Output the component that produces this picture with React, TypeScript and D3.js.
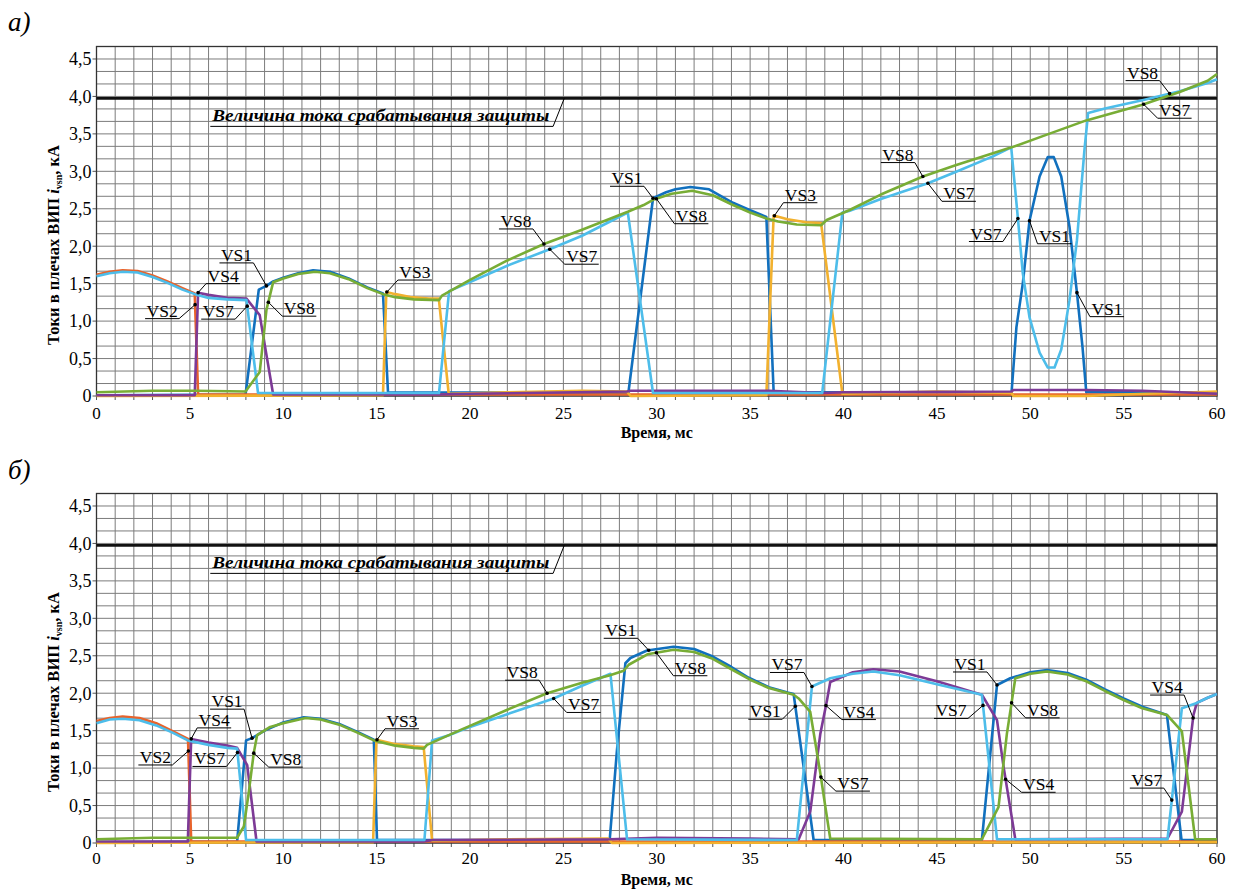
import React from 'react';
import * as d3 from 'd3';

type Pt = [number, number];

// ---------- axes / text ----------
const TIME_TICKS = [0, 5, 10, 15, 20, 25, 30, 35, 40, 45, 50, 55, 60];
const CURRENT_TICKS = [0, 0.5, 1, 1.5, 2, 2.5, 3, 3.5, 4, 4.5];
const CURRENT_TICK_LABELS = ['0', '0,5', '1,0', '1,5', '2,0', '2,5', '3,0', '3,5', '4,0', '4,5'];
const TRIP_LEVEL = 3.975;
const TRIP_TEXT = 'Величина тока срабатывания защиты';
const X_TITLE = 'Время, мс';
const SERIES_NAMES = ['VS1', 'VS2', 'VS3', 'VS4', 'VS7', 'VS8'];
const COLORS: Record<string, string> = {
  VS1: '#1170BE',
  VS2: '#E8632B',
  VS3: '#F2B12E',
  VS4: '#7D3A96',
  VS7: '#4DBDEA',
  VS8: '#78AD35',
};

// ---------- panel a) : [time ms, current kA] ----------
const A_VS1: Pt[] = [[0,0.01],[7.98,0.02],[8.69,1.42],[9.1,1.47],[9.46,1.53],[10,1.58],[10.8,1.64],[11.6,1.68],[12.5,1.66],[13.5,1.57],[14.5,1.45],[15.34,1.37],[15.61,0.05],[28.48,0.04],[29.8,2.64],[30.5,2.72],[31,2.76],[31.8,2.79],[32.8,2.76],[34.08,2.58],[35,2.48],[35.87,2.39],[36.26,0.05],[49.0,0.05],[49.26,0.92],[49.6,1.50],[49.96,2.34],[50.5,2.93],[50.94,3.19],[51.26,3.19],[51.66,2.93],[52.1,2.26],[52.5,1.38],[52.8,0.65],[53.0,0.05],[60,0.05]];
const A_VS2: Pt[] = [[0,1.62],[0.7,1.66],[1.4,1.68],[2.2,1.67],[3,1.61],[3.8,1.53],[4.6,1.44],[5.26,1.37],[5.44,0.02],[60,0.02]];
const A_VS3: Pt[] = [[0,0.0],[15.34,0.01],[15.52,1.39],[16,1.36],[16.8,1.32],[17.8,1.30],[18.33,1.30],[18.86,0.03],[22,0.05],[26,0.07],[28.4,0.06],[28.6,0.0],[35.87,0.01],[36.26,2.41],[37,2.36],[38,2.32],[38.8,2.31],[39.94,0.03],[45,0.06],[49,0.04],[49.1,0.0],[53,0.0],[55,0.02],[60,0.06]];
const A_VS4: Pt[] = [[0,0.01],[5.26,0.01],[5.44,1.38],[6,1.35],[7,1.31],[8.03,1.30],[8.74,1.08],[9.46,0.02],[18.3,0.02],[20,0.03],[28.4,0.06],[28.6,0.07],[36,0.07],[38.9,0.04],[40,0.05],[49,0.06],[49.1,0.08],[53,0.08],[56,0.07],[60,0.03]];
const A_VS7: Pt[] = [[0,1.60],[0.7,1.64],[1.4,1.66],[2.2,1.65],[3,1.59],[3.8,1.51],[4.6,1.42],[5.26,1.36],[6,1.31],[7,1.29],[8.03,1.28],[8.65,0.04],[18.34,0.04],[18.88,1.40],[20,1.52],[22,1.74],[24.27,1.96],[26,2.14],[28.45,2.45],[29.8,0.04],[38.86,0.04],[39.94,2.45],[40.3,2.47],[42,2.63],[44.52,2.84],[46,2.99],[48,3.20],[48.98,3.32],[49.34,2.37],[49.6,1.64],[49.96,1.05],[50.5,0.58],[50.94,0.38],[51.3,0.38],[51.66,0.62],[52.1,1.28],[52.5,2.08],[52.9,3.28],[53.1,3.78],[54,3.84],[56,3.95],[58,4.07],[59.5,4.18],[60,4.23]];
const A_VS8: Pt[] = [[0,0.05],[3,0.07],[5.3,0.07],[7.98,0.06],[8.74,0.32],[9.1,1.15],[9.46,1.52],[10,1.57],[10.8,1.63],[11.7,1.66],[12.5,1.64],[13.5,1.56],[14.5,1.44],[15.34,1.36],[16,1.32],[17,1.29],[18.34,1.28],[18.5,1.34],[20,1.55],[22,1.81],[23.96,2.03],[26,2.22],[28.45,2.46],[29.3,2.55],[29.8,2.62],[30.8,2.70],[31.9,2.74],[33,2.68],[34.08,2.55],[35,2.45],[35.87,2.37],[36.5,2.33],[37.5,2.29],[38.8,2.28],[39.1,2.35],[40.3,2.48],[42,2.69],[44.25,2.93],[46,3.08],[49,3.32],[51,3.50],[53,3.68],[56,3.89],[58,4.06],[59.5,4.21],[60,4.30]];

// ---------- panel б) ----------
const B_VS1: Pt[] = [[0,0.01],[7.53,0.02],[8.01,1.37],[8.33,1.40],[9,1.50],[10,1.61],[11.1,1.68],[12,1.66],[13,1.59],[14,1.48],[14.85,1.38],[15.02,0.04],[27.48,0.04],[27.87,1.24],[28.32,2.40],[28.59,2.47],[29.48,2.57],[30.9,2.62],[32,2.59],[33,2.49],[34,2.35],[34.9,2.21],[36,2.08],[37,2.01],[37.33,1.99],[38.4,0.04],[47.41,0.04],[48.22,2.11],[48.93,2.20],[50,2.28],[50.9,2.31],[52,2.27],[53,2.18],[54,2.05],[55,1.93],[56,1.82],[57.32,1.71],[58.1,0.04],[60,0.04]];
const B_VS2: Pt[] = [[0,1.63],[0.7,1.67],[1.4,1.69],[2.3,1.67],[3.2,1.60],[4.1,1.49],[4.9,1.39],[5.07,0.02],[60,0.02]];
const B_VS3: Pt[] = [[0,0.0],[14.81,0.01],[14.99,1.38],[16,1.32],[17,1.29],[17.52,1.28],[17.97,0.03],[22,0.05],[27.4,0.06],[27.6,0.0],[60,0.01]];
const B_VS4: Pt[] = [[0,0.02],[4.89,0.02],[5.07,1.39],[6,1.34],[7,1.30],[7.53,1.27],[8.07,1.04],[8.57,0.02],[17.5,0.02],[18,0.04],[27.5,0.05],[30,0.07],[35,0.06],[37.6,0.05],[38.22,0.42],[38.76,1.46],[39.12,1.91],[39.29,2.15],[40.5,2.28],[41.6,2.32],[43,2.29],[45,2.16],[47.41,1.98],[48.22,1.64],[48.57,1.02],[49.2,0.05],[57.35,0.06],[58.12,0.42],[58.74,1.71],[58.92,1.87],[59.5,1.94],[60,1.99]];
const B_VS7: Pt[] = [[0,1.60],[0.7,1.65],[1.4,1.66],[2.3,1.64],[3.2,1.57],[4.1,1.47],[4.89,1.37],[6,1.31],[7,1.27],[7.53,1.26],[8.01,0.04],[17.56,0.04],[17.97,1.37],[19,1.45],[20,1.55],[22,1.72],[24.48,1.93],[26,2.10],[27.52,2.26],[28.41,0.05],[37.5,0.04],[38.31,2.09],[39.29,2.20],[40.5,2.26],[41.6,2.29],[43,2.24],[45,2.12],[47.41,1.98],[48.22,0.05],[57.35,0.05],[58.12,1.80],[58.92,1.87],[59.5,1.94],[60,1.99]];
const B_VS8: Pt[] = [[0,0.05],[3,0.07],[7.53,0.07],[7.89,0.22],[8.15,0.67],[8.42,1.20],[8.6,1.44],[9.3,1.55],[10,1.60],[11.2,1.67],[12,1.65],[13,1.58],[14,1.47],[14.85,1.37],[16,1.30],[17,1.27],[17.52,1.26],[17.7,1.31],[19.5,1.51],[22,1.78],[24.13,2.0],[26,2.14],[27.5,2.24],[28.23,2.30],[28.5,2.38],[29.5,2.52],[30.9,2.58],[32,2.55],[33,2.46],[34,2.32],[35,2.18],[36,2.07],[37.33,1.98],[37.6,1.93],[38.22,1.75],[38.76,0.93],[39.03,0.48],[39.29,0.06],[47.41,0.05],[48.3,0.48],[48.75,1.46],[49.2,2.20],[50,2.26],[50.9,2.29],[52,2.25],[53,2.16],[54,2.03],[55,1.91],[56,1.80],[57.32,1.71],[58.12,1.49],[58.83,0.05],[60,0.05]];

const A_SERIES: Record<string, Pt[]> = { VS1: A_VS1, VS2: A_VS2, VS3: A_VS3, VS4: A_VS4, VS7: A_VS7, VS8: A_VS8 };
const B_SERIES: Record<string, Pt[]> = { VS1: B_VS1, VS2: B_VS2, VS3: B_VS3, VS4: B_VS4, VS7: B_VS7, VS8: B_VS8 };

// ---------- callouts ----------
type Label = { text: string; s: string; t: number; dx: number; dy: number; end: 'L' | 'R' };
const A_LABELS: Label[] = [
  { text: 'VS4', s: 'VS4', t: 5.44, dx: 8, dy: -9, end: 'L' },
  { text: 'VS2', s: 'VS2', t: 5.28, dx: -16, dy: 14, end: 'R' },
  { text: 'VS7', s: 'VS7', t: 8.07, dx: -12, dy: 13, end: 'R' },
  { text: 'VS8', s: 'VS8', t: 9.2, dx: 14, dy: 14, end: 'L' },
  { text: 'VS1', s: 'VS1', t: 9.1, dx: -13, dy: -23, end: 'R' },
  { text: 'VS3', s: 'VS3', t: 15.55, dx: 11, dy: -12, end: 'L' },
  { text: 'VS8', s: 'VS8', t: 23.96, dx: -11, dy: -15, end: 'R' },
  { text: 'VS7', s: 'VS7', t: 24.27, dx: 15, dy: 15, end: 'L' },
  { text: 'VS1', s: 'VS1', t: 29.8, dx: -9, dy: -12, end: 'R' },
  { text: 'VS8', s: 'VS8', t: 29.98, dx: 18, dy: 25, end: 'L' },
  { text: 'VS3', s: 'VS3', t: 36.3, dx: 9, dy: -13, end: 'L' },
  { text: 'VS8', s: 'VS8', t: 44.25, dx: -8, dy: -14, end: 'R' },
  { text: 'VS7', s: 'VS7', t: 44.52, dx: 14, dy: 18, end: 'L' },
  { text: 'VS7', s: 'VS7', t: 49.34, dx: -15, dy: 23, end: 'R' },
  { text: 'VS1', s: 'VS1', t: 49.96, dx: 8, dy: 23, end: 'L' },
  { text: 'VS1', s: 'VS1', t: 52.5, dx: 13, dy: 24, end: 'L' },
  { text: 'VS8', s: 'VS7', t: 57.46, dx: -10, dy: -13, end: 'R' },
  { text: 'VS7', s: 'VS8', t: 56.07, dx: 14, dy: 14, end: 'L' },
];
const B_LABELS: Label[] = [
  { text: 'VS1', s: 'VS1', t: 8.33, dx: -8, dy: -29, end: 'R' },
  { text: 'VS4', s: 'VS4', t: 5.07, dx: 6, dy: -11, end: 'L' },
  { text: 'VS2', s: 'VS2', t: 4.92, dx: -16, dy: 14, end: 'R' },
  { text: 'VS7', s: 'VS7', t: 7.55, dx: -11, dy: 14, end: 'R' },
  { text: 'VS8', s: 'VS8', t: 8.42, dx: 15, dy: 14, end: 'L' },
  { text: 'VS3', s: 'VS3', t: 15.02, dx: 8, dy: -11, end: 'L' },
  { text: 'VS8', s: 'VS8', t: 24.13, dx: -8, dy: -13, end: 'R' },
  { text: 'VS7', s: 'VS7', t: 24.48, dx: 13, dy: 14, end: 'L' },
  { text: 'VS1', s: 'VS1', t: 29.57, dx: -11, dy: -12, end: 'R' },
  { text: 'VS8', s: 'VS8', t: 29.98, dx: 17, dy: 23, end: 'L' },
  { text: 'VS7', s: 'VS7', t: 38.31, dx: -8, dy: -14, end: 'R' },
  { text: 'VS1', s: 'VS1', t: 37.42, dx: -13, dy: 13, end: 'R' },
  { text: 'VS4', s: 'VS4', t: 39.06, dx: 16, dy: 14, end: 'L' },
  { text: 'VS7', s: 'VS8', t: 38.79, dx: 15, dy: 14, end: 'L' },
  { text: 'VS1', s: 'VS1', t: 48.22, dx: -10, dy: -13, end: 'R' },
  { text: 'VS7', s: 'VS7', t: 47.47, dx: -15, dy: 13, end: 'R' },
  { text: 'VS8', s: 'VS8', t: 49.0, dx: 14, dy: 15, end: 'L' },
  { text: 'VS4', s: 'VS4', t: 48.68, dx: 16, dy: 13, end: 'L' },
  { text: 'VS4', s: 'VS4', t: 58.72, dx: -9, dy: -23, end: 'R' },
  { text: 'VS7', s: 'VS7', t: 57.58, dx: -8, dy: -12, end: 'R' },
];

// ---------- layout ----------
const W = 1242;
const H = 890;
const X_LEFT = 96.5;
const X_RIGHT = 1217;
const Y_MAX = 4.6667;
const PLOT_H = 349.5;
const SERIF = '"Liberation Serif", "Times New Roman", Times, serif';
const UNDER_W = 34;

function interp(series: Pt[], t: number): number {
  const i = d3.bisector((d: Pt) => d[0]).right(series, t);
  if (i <= 0) return series[0][1];
  if (i >= series.length) return series[series.length - 1][1];
  const [t0, v0] = series[i - 1];
  const [t1, v1] = series[i];
  return v0 + ((v1 - v0) * (t - t0)) / (t1 - t0);
}

type PanelProps = {
  zero: number;
  series: Record<string, Pt[]>;
  labels: Label[];
  letter: string;
  letterY: number;
  tickDy: number;
};

function Panel({ zero, series, labels, letter, letterY, tickDy }: PanelProps) {
  const x = d3.scaleLinear().domain([0, 60]).range([X_LEFT, X_RIGHT]);
  const y = d3.scaleLinear().domain([0, Y_MAX]).range([zero, zero - PLOT_H]);
  const line = d3
    .line<Pt>()
    .x((d) => x(d[0]))
    .y((d) => y(d[1]))
    .curve(d3.curveLinear);
  const top = y(Y_MAX);
  const vGrid = d3.range(0, 61, 1);
  const hGrid = d3.range(0, 29, 1).map((k) => k / 6);
  const tripY = y(TRIP_LEVEL);
  const tripTextX = x(6.2);
  const tripUnderY = y(3.6);
  const tripUnderEnd = x(24.45);
  const tripLeaderEnd = x(25.05);

  return (
    <g>
      <text x={8} y={letterY} fontFamily={SERIF} fontStyle="italic" fontSize={27}>
        {letter}
      </text>
      <g stroke="#7c7c7c" strokeWidth={1}>
        {vGrid.map((t) => (
          <line key={'v' + t} x1={x(t)} x2={x(t)} y1={top} y2={zero} />
        ))}
        {hGrid.map((v, i) => (
          <line key={'h' + i} x1={X_LEFT} x2={X_RIGHT} y1={y(v)} y2={y(v)} />
        ))}
      </g>
      <g stroke="#555" strokeWidth={1}>
        {vGrid.map((t) => (
          <line key={'tx' + t} x1={x(t)} x2={x(t)} y1={zero} y2={zero + 4} />
        ))}
        {CURRENT_TICKS.map((v) => (
          <line key={'ty' + v} x1={X_LEFT - 4} x2={X_LEFT} y1={y(v)} y2={y(v)} />
        ))}
      </g>
      <rect x={X_LEFT} y={top} width={X_RIGHT - X_LEFT} height={zero - top} fill="none" stroke="#333" strokeWidth={1.3} />
      <line x1={X_LEFT} x2={X_RIGHT} y1={tripY} y2={tripY} stroke="#111" strokeWidth={2.8} />
      {SERIES_NAMES.map((name) => (
        <path
          key={name}
          d={line(series[name]) || ''}
          fill="none"
          stroke={COLORS[name]}
          strokeWidth={2.6}
          strokeLinejoin="round"
        />
      ))}
      <text
        x={tripTextX}
        y={tripUnderY - 5}
        fontFamily={SERIF}
        fontWeight="bold"
        fontStyle="italic"
        fontSize={16}
        textLength={337}
        lengthAdjust="spacingAndGlyphs"
      >
        {TRIP_TEXT}
      </text>
      <line x1={tripTextX - 2} x2={tripUnderEnd} y1={tripUnderY} y2={tripUnderY} stroke="#000" strokeWidth={1} />
      <line x1={tripUnderEnd} x2={tripLeaderEnd} y1={tripUnderY} y2={tripY} stroke="#000" strokeWidth={1} />
      {labels.map((lb, i) => {
        const px = x(lb.t);
        const py = y(interp(series[lb.s], lb.t));
        const ax = px + lb.dx;
        const ay = py + lb.dy;
        const u0 = lb.end === 'L' ? ax : ax - UNDER_W;
        const u1 = u0 + UNDER_W;
        return (
          <g key={'lb' + i}>
            <line x1={px} y1={py} x2={ax} y2={ay} stroke="#000" strokeWidth={1} />
            <line x1={u0} y1={ay} x2={u1} y2={ay} stroke="#000" strokeWidth={1} />
            <circle cx={px} cy={py} r={1.8} fill="#000" />
            <text x={(u0 + u1) / 2} y={ay - 2} textAnchor="middle" fontFamily={SERIF} fontSize={17.5}>
              {lb.text}
            </text>
          </g>
        );
      })}
      {TIME_TICKS.map((t) => (
        <text key={'xl' + t} x={x(t)} y={zero + tickDy} textAnchor="middle" fontFamily={SERIF} fontSize={17}>
          {t}
        </text>
      ))}
      {CURRENT_TICKS.map((v, i) => (
        <text key={'yl' + v} x={X_LEFT - 5} y={y(v)} dy="0.35em" textAnchor="end" fontFamily={SERIF} fontSize={18}>
          {CURRENT_TICK_LABELS[i]}
        </text>
      ))}
      <text x={(X_LEFT + X_RIGHT) / 2} y={zero + 42} textAnchor="middle" fontFamily={SERIF} fontWeight="bold" fontSize={16}>
        {X_TITLE}
      </text>
      <text
        transform={`translate(59,${zero - 151}) rotate(-90)`}
        textAnchor="middle"
        fontFamily={SERIF}
        fontWeight="bold"
        fontSize={16.5}
      >
        <tspan>Токи в плечах ВИП </tspan>
        <tspan fontStyle="italic">i</tspan>
        <tspan fontSize={10} dy={3}>vsn</tspan>
        <tspan dy={-3}>, кА</tspan>
      </text>
    </g>
  );
}

export default function App() {
  return (
    <svg
      width={W}
      height={H}
      viewBox={`0 0 ${W} ${H}`}
      style={{ position: 'absolute', left: 0, top: 0, background: '#fff' }}
    >
      <rect width={W} height={H} fill="#fff" />
      <Panel zero={396} series={A_SERIES} labels={A_LABELS} letter="а)" letterY={31} tickDy={23} />
      <Panel zero={843} series={B_SERIES} labels={B_LABELS} letter="б)" letterY={479} tickDy={21} />
    </svg>
  );
}
